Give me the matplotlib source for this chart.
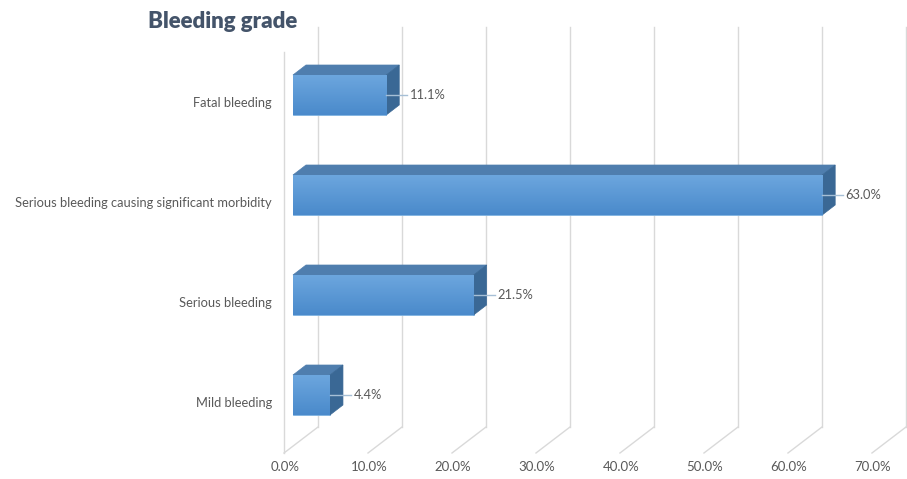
import matplotlib.pyplot as plt
import numpy as np
from matplotlib.colors import LinearSegmentedColormap
from matplotlib.patches import Polygon

# data
categories = ['Mild bleeding', 'Serious bleeding',
              'Serious bleeding causing significant morbidity', 'Fatal bleeding']
values = [4.4, 21.5, 63.0, 11.1]
ticks = [0, 10, 20, 30, 40, 50, 60, 70]
tick_labels = ['0.0%', '10.0%', '20.0%', '30.0%', '40.0%', '50.0%', '60.0%', '70.0%']

# styling
FONT = 'Lato'
TEXT_COLOR = '#595959'
GRID_COLOR = '#D9D9D9'
TOP_COLOR = '#4F7EAE'
SIDE_COLOR = '#3A6895'
BAR_H = 0.4
# pseudo 3d offsets (in data units)
BAR_DX, BAR_DY = 1.55, 0.10
WALL_FRONT_X, WALL_BACK_X = -1.07, 2.98
FLOOR_FRONT_Y, FLOOR_BACK_Y = -0.58, -0.32
WALL_TOP_FRONT, WALL_TOP_BACK = 3.43, 3.68

fig = plt.figure(figsize=(9.07, 4.79), dpi=100)
ax = fig.add_axes([0, 0, 1, 1])

# grid: back wall verticals + floor diagonals
for t in ticks:
    ax.plot([t + WALL_BACK_X, t + WALL_BACK_X], [FLOOR_BACK_Y, WALL_TOP_BACK],
            color=GRID_COLOR, lw=1, zorder=1)
    ax.plot([t + WALL_FRONT_X, t + WALL_BACK_X], [FLOOR_FRONT_Y, FLOOR_BACK_Y],
            color=GRID_COLOR, lw=1, zorder=1)
ax.plot([WALL_FRONT_X, WALL_FRONT_X], [FLOOR_FRONT_Y, WALL_TOP_FRONT],
        color=GRID_COLOR, lw=1, zorder=1)

# tick labels
for t, lab in zip(ticks, tick_labels):
    ax.text(t - 0.95, -0.72, lab, ha='center', va='center', fontsize=9.5,
            color=TEXT_COLOR, family=FONT)

grad_cmap = LinearSegmentedColormap.from_list('face', ['#4A8ACB', '#6CA6DE'])
grad = np.linspace(0, 1, 64).reshape(-1, 1)

for i, (cat, v) in enumerate(zip(categories, values)):
    y = i
    # front face with vertical gradient
    bar = ax.barh(y, v, height=BAR_H, left=0, color='#5B9BD5',
                  edgecolor='#7FB2E0', lw=0.6, zorder=3)[0]
    im = ax.imshow(grad, extent=[0, v, y - BAR_H / 2, y + BAR_H / 2],
                   origin='lower', cmap=grad_cmap, aspect='auto', zorder=3.5)
    im.set_clip_path(bar)
    # top face
    top = Polygon([(0, y + BAR_H / 2), (v, y + BAR_H / 2),
                   (v + BAR_DX, y + BAR_H / 2 + BAR_DY), (BAR_DX, y + BAR_H / 2 + BAR_DY)],
                  closed=True, facecolor=TOP_COLOR, edgecolor=TOP_COLOR, lw=0.5, zorder=3)
    ax.add_patch(top)
    # side face
    side = Polygon([(v, y - BAR_H / 2), (v, y + BAR_H / 2),
                    (v + BAR_DX, y + BAR_H / 2 + BAR_DY), (v + BAR_DX, y - BAR_H / 2 + BAR_DY)],
                   closed=True, facecolor=SIDE_COLOR, edgecolor=SIDE_COLOR, lw=0.5, zorder=3)
    ax.add_patch(side)
    # value label with leader line
    ax.plot([v, v + 2.5], [y, y], color='#A6BFD6', lw=1, zorder=4)
    ax.text(v + 2.8, y, f'{v:.1f}%', ha='left', va='center', fontsize=9.3,
            color=TEXT_COLOR, family=FONT, zorder=5)
    # category label
    ax.text(-2.5, y - 0.08, cat, ha='right', va='center', fontsize=9.3,
            color=TEXT_COLOR, family=FONT)

ax.set_xlim(-34.88, 73.10)
ax.set_ylim(-0.84, 3.95)
ax.axis('off')

fig.text(148 / 907, 1 - 21 / 479, 'Bleeding grade', ha='left', va='center',
         fontsize=16, fontweight='heavy', color='#44546A', family=FONT)

plt.savefig('out.png', dpi=100)
